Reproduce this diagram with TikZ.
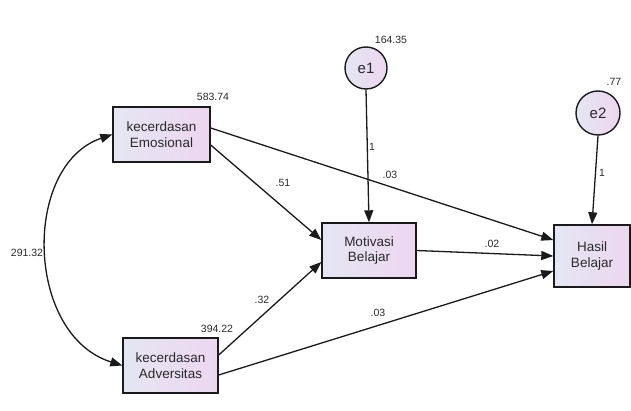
\documentclass[tikz,border=0pt]{standalone}
\usepackage{fontspec}
\setmainfont{Liberation Sans}
\usetikzlibrary{arrows.meta,calc}
\definecolor{lineC}{HTML}{1A1A1A}
\definecolor{fillL}{HTML}{E4E6F3}
\definecolor{fillR}{HTML}{EDD6F0}
\definecolor{txtC}{HTML}{2A2A2A}
\tikzset{
  obs/.style={draw=lineC, line width=1.4pt, left color=fillL, right color=fillR,
    minimum width=#1, inner sep=0pt, align=center, text=txtC,
    font=\fontsize{13.5}{15.5}\selectfont},
  err/.style={draw=lineC, line width=1.4pt, circle, left color=fillL, right color=fillR,
    minimum size=#1, inner sep=0pt, text=txtC, font=\fontsize{15}{17}\selectfont},
  arr/.style={draw=lineC, line width=1.3pt, -{Triangle[length=12pt,width=9pt]}},
  darr/.style={draw=lineC, line width=1.3pt, {Triangle[length=12pt,width=9pt]}-{Triangle[length=12pt,width=9pt]}},
  lab/.style={font=\fontsize{10.5}{12}\selectfont, text=txtC, inner sep=0pt}
}
\begin{document}
\begin{tikzpicture}[x=1pt,y=-1pt]
\useasboundingbox[fill=white] (0,0) rectangle (631,411);
\node[obs=97pt, minimum height=55pt] (em) at (161.5,134.5) {kecerdasan\\Emosional};
\node[obs=94pt, minimum height=55pt] (mo) at (369,250.5) {Motivasi\\Belajar};
\node[obs=76pt, minimum height=62pt] (ha) at (592,256) {Hasil\\Belajar};
\node[obs=95pt, minimum height=55pt] (ad) at (170.5,365.5) {kecerdasan\\Adversitas};
\node[err=42pt] (e1) at (366,68) {e1};
\node[err=44pt] (e2) at (598,113) {e2};

\draw[arr] ([yshift=-10.5pt]em.east) -- ([yshift=10.5pt]mo.west);
\draw[arr] ([yshift=6.5pt]em.east) -- ([yshift=16pt]ha.west);
\draw[arr] (mo.east) -- (ha.west);
\draw[arr] ([yshift=10.5pt]ad.east) -- ([yshift=-11.5pt]mo.west);
\draw[arr] ([yshift=-9.5pt]ad.east) -- ([yshift=-15pt]ha.west);
\draw[arr] (e1.south) -- (mo.north);
\draw[arr] (e2.south) -- (ha.north);
\draw[darr] (em.west) .. controls (22,165) and (25,335) .. (ad.west);

\node[lab] (l1) at (213,97) {583.74};
\node[lab] (l2) at (391,40) {164.35};
\node[lab] (l3) at (614,82) {.77};
\node[lab] (l4) at (217,329) {394.22};
\node[lab] (l5) at (27,253) {291.32};
\node[lab] (l6) at (283,183) {.51};
\node[lab] (l7) at (372,147) {1};
\node[lab] (l8) at (390,175) {.03};
\node[lab] (l9) at (492,244) {.02};
\node[lab] (l10) at (262,300) {.32};
\node[lab] (l11) at (378,313) {.03};
\node[lab] (l12) at (602,173) {1};
\end{tikzpicture}
\end{document}
